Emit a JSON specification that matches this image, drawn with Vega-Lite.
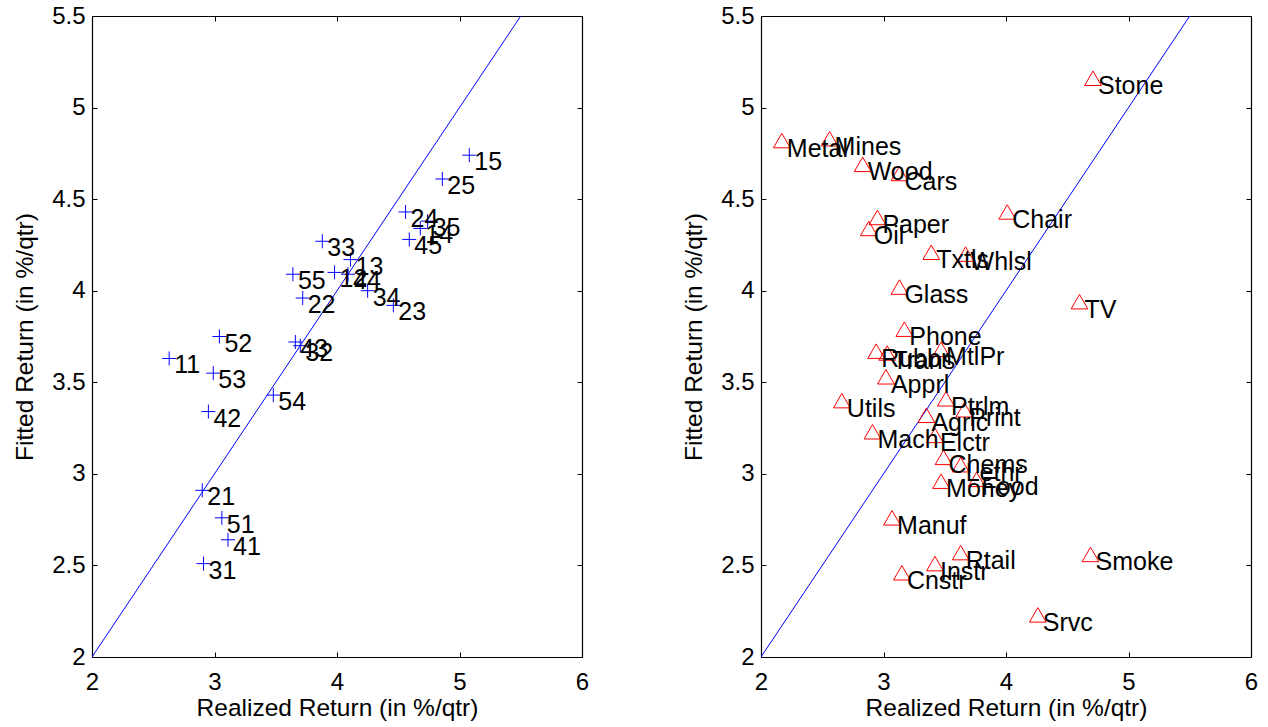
{
  "$schema": "https://vega.github.io/schema/vega-lite/v6.json",
  "padding": {"left": 12, "top": 4, "right": 5, "bottom": 5},
  "spacing": 92,
  "config": {
    "font": "Liberation Sans",
    "view": {"stroke": null},
    "axis": {
      "labelFont": "Liberation Sans",
      "titleFont": "Liberation Sans",
      "labelFontSize": 24,
      "titleFontSize": 24.5,
      "titleFontWeight": "normal",
      "labelColor": "black",
      "titleColor": "black",
      "domainColor": "black",
      "domainWidth": 1.2,
      "tickColor": "black",
      "tickWidth": 1,
      "tickSize": -5,
      "labelFlush": false,
      "grid": false
    }
  },
  "datasets": {
    "diag": [{"x": 2, "y": 2}, {"x": 5.5, "y": 5.5}],
    "portfolios": [
      {"label": "11", "x": 2.63, "y": 3.63},
      {"label": "12", "x": 3.98, "y": 4.10},
      {"label": "13", "x": 4.11, "y": 4.17},
      {"label": "14", "x": 4.68, "y": 4.34},
      {"label": "15", "x": 5.08, "y": 4.74},
      {"label": "21", "x": 2.90, "y": 2.91},
      {"label": "22", "x": 3.72, "y": 3.96},
      {"label": "23", "x": 4.46, "y": 3.92},
      {"label": "24", "x": 4.56, "y": 4.43},
      {"label": "25", "x": 4.86, "y": 4.61},
      {"label": "31", "x": 2.91, "y": 2.51},
      {"label": "32", "x": 3.70, "y": 3.70},
      {"label": "33", "x": 3.88, "y": 4.27},
      {"label": "34", "x": 4.25, "y": 4.00},
      {"label": "35", "x": 4.74, "y": 4.38},
      {"label": "41", "x": 3.11, "y": 2.64},
      {"label": "42", "x": 2.95, "y": 3.34},
      {"label": "43", "x": 3.66, "y": 3.72},
      {"label": "44", "x": 4.09, "y": 4.09},
      {"label": "45", "x": 4.59, "y": 4.28},
      {"label": "51", "x": 3.06, "y": 2.76},
      {"label": "52", "x": 3.04, "y": 3.75},
      {"label": "53", "x": 2.99, "y": 3.55},
      {"label": "54", "x": 3.48, "y": 3.43},
      {"label": "55", "x": 3.64, "y": 4.09}
    ],
    "industries": [
      {"label": "Stone", "x": 4.71, "y": 5.16},
      {"label": "Metal", "x": 2.17, "y": 4.82},
      {"label": "Mines", "x": 2.56, "y": 4.83},
      {"label": "Wood", "x": 2.83, "y": 4.69},
      {"label": "Cars", "x": 3.13, "y": 4.64},
      {"label": "Paper", "x": 2.95, "y": 4.40},
      {"label": "Oil", "x": 2.88, "y": 4.34},
      {"label": "Chair", "x": 4.01, "y": 4.43},
      {"label": "Txtls", "x": 3.39, "y": 4.21},
      {"label": "Whlsl", "x": 3.67, "y": 4.20},
      {"label": "Glass", "x": 3.13, "y": 4.02},
      {"label": "TV", "x": 4.60, "y": 3.94},
      {"label": "Phone", "x": 3.17, "y": 3.79},
      {"label": "Rubbr", "x": 2.94, "y": 3.67},
      {"label": "Trans", "x": 3.03, "y": 3.66},
      {"label": "MtlPr", "x": 3.47, "y": 3.68},
      {"label": "Apprl", "x": 3.02, "y": 3.53},
      {"label": "Utils", "x": 2.66, "y": 3.40},
      {"label": "Ptrlm", "x": 3.51, "y": 3.41},
      {"label": "Print", "x": 3.66, "y": 3.35},
      {"label": "Agric", "x": 3.35, "y": 3.32},
      {"label": "Mach", "x": 2.91, "y": 3.23},
      {"label": "Elctr", "x": 3.42, "y": 3.21},
      {"label": "Chems", "x": 3.49, "y": 3.09},
      {"label": "Lethr", "x": 3.63, "y": 3.05},
      {"label": "Food", "x": 3.76, "y": 2.97},
      {"label": "Money", "x": 3.47, "y": 2.96},
      {"label": "Manuf", "x": 3.07, "y": 2.76},
      {"label": "Rtail", "x": 3.63, "y": 2.57},
      {"label": "Instr", "x": 3.42, "y": 2.51},
      {"label": "Cnstr", "x": 3.15, "y": 2.46},
      {"label": "Smoke", "x": 4.69, "y": 2.56},
      {"label": "Srvc", "x": 4.26, "y": 2.23}
    ]
  },
  "hconcat": [
    {
      "width": 490,
      "height": 641,
      "layer": [
        {
          "data": {"name": "diag"},
          "mark": {"type": "line", "color": "#0000ff", "strokeWidth": 1, "clip": true},
          "encoding": {
            "x": {"field": "x", "type": "quantitative", "scale": {"domain": [2, 6], "nice": false, "zero": false},
              "axis": {"orient": "bottom", "values": [2, 3, 4, 5, 6], "format": "d", "title": "Realized Return (in %/qtr)", "labelPadding": 18, "titlePadding": 2}},
            "y": {"field": "y", "type": "quantitative", "scale": {"domain": [2, 5.5], "nice": false, "zero": false},
              "axis": {"orient": "left", "values": [2, 2.5, 3, 3.5, 4, 4.5, 5, 5.5], "format": "~g", "title": "Fitted Return (in %/qtr)", "labelPadding": 12, "titlePadding": 14}}
          }
        },
        {
          "data": {"name": "portfolios"},
          "mark": {"type": "point", "shape": "M-1,0H1M0,-1V1", "size": 196, "filled": false, "color": "#0000ff", "strokeWidth": 1, "opacity": 1},
          "encoding": {
            "x": {"field": "x", "type": "quantitative", "axis": null},
            "y": {"field": "y", "type": "quantitative", "axis": null}
          }
        },
        {
          "data": {"name": "portfolios"},
          "mark": {"type": "text", "align": "left", "baseline": "middle", "dx": 5, "dy": 7, "fontSize": 25, "color": "black"},
          "encoding": {
            "x": {"field": "x", "type": "quantitative", "axis": {"orient": "top", "values": [2, 3, 4, 5, 6], "labels": false, "title": null}},
            "y": {"field": "y", "type": "quantitative", "axis": {"orient": "right", "values": [2, 2.5, 3, 3.5, 4, 4.5, 5, 5.5], "labels": false, "title": null}},
            "text": {"field": "label"}
          }
        }
      ],
      "resolve": {"axis": {"x": "independent", "y": "independent"}}
    },
    {
      "width": 490,
      "height": 641,
      "layer": [
        {
          "data": {"name": "diag"},
          "mark": {"type": "line", "color": "#0000ff", "strokeWidth": 1, "clip": true},
          "encoding": {
            "x": {"field": "x", "type": "quantitative", "scale": {"domain": [2, 6], "nice": false, "zero": false},
              "axis": {"orient": "bottom", "values": [2, 3, 4, 5, 6], "format": "d", "title": "Realized Return (in %/qtr)", "labelPadding": 18, "titlePadding": 2}},
            "y": {"field": "y", "type": "quantitative", "scale": {"domain": [2, 5.5], "nice": false, "zero": false},
              "axis": {"orient": "left", "values": [2, 2.5, 3, 3.5, 4, 4.5, 5, 5.5], "format": "~g", "title": "Fitted Return (in %/qtr)", "labelPadding": 12, "titlePadding": 14}}
          }
        },
        {
          "data": {"name": "industries"},
          "mark": {"type": "point", "shape": "triangle-up", "size": 280, "filled": false, "color": "#ff0000", "strokeWidth": 1, "opacity": 1},
          "encoding": {
            "x": {"field": "x", "type": "quantitative", "axis": null},
            "y": {"field": "y", "type": "quantitative", "axis": null}
          }
        },
        {
          "data": {"name": "industries"},
          "mark": {"type": "text", "align": "left", "baseline": "middle", "dx": 5, "dy": 8, "fontSize": 25, "color": "black"},
          "encoding": {
            "x": {"field": "x", "type": "quantitative", "axis": {"orient": "top", "values": [2, 3, 4, 5, 6], "labels": false, "title": null}},
            "y": {"field": "y", "type": "quantitative", "axis": {"orient": "right", "values": [2, 2.5, 3, 3.5, 4, 4.5, 5, 5.5], "labels": false, "title": null}},
            "text": {"field": "label"}
          }
        }
      ],
      "resolve": {"axis": {"x": "independent", "y": "independent"}}
    }
  ]
}
